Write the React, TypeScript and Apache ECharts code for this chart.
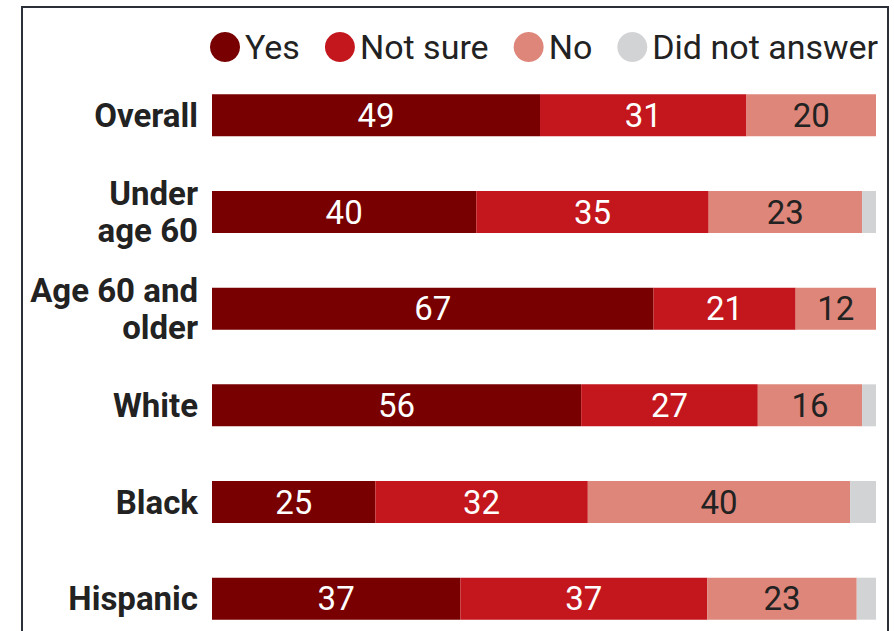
import React, { useEffect, useRef } from "react";
import * as echarts from "echarts";

const categories = ["Overall", "Under\nage 60", "Age 60 and\nolder", "White", "Black", "Hispanic"];
const seriesNames = ["Yes", "Not sure", "No", "Did not answer"];
const yesValues = [49.4, 39.8, 66.5, 55.6, 24.6, 37.4];
const notSureValues = [31.1, 35.0, 21.4, 26.6, 32.0, 37.2];
const noValues = [19.5, 23.1, 12.1, 15.7, 39.5, 22.5];
const dnaValues = [0, 2.1, 0, 2.1, 3.9, 2.9];
const colors = ["#780000", "#c3161d", "#df867a", "#d2d3d5"];
const labelColors = ["#ffffff", "#ffffff", "#222222", "#222222"];

const FONT = "Roboto, 'Noto Sans', sans-serif";

export default function App() {
  const ref = useRef<HTMLDivElement>(null);
  useEffect(() => {
    document.body.style.margin = "0";
    if (!ref.current) return;
    const chart = echarts.init(ref.current, null, { renderer: "svg" });
    const all = [yesValues, notSureValues, noValues, dnaValues];
    chart.setOption({
      animation: false,
      backgroundColor: "#ffffff",
      legend: {
        left: 210,
        top: 30,
        width: 684,
        icon: "circle",
        itemWidth: 30,
        itemHeight: 30,
        itemGap: 25,
        padding: 0,
        textStyle: { fontFamily: FONT, fontSize: 34, lineHeight: 30, color: "#222222" },
        selectedMode: false,
        data: seriesNames,
      },
      graphic: [
        {
          type: "rect",
          shape: { x: 22, y: 7, width: 866, height: 700 },
          style: { fill: "none", stroke: "#2b3038", lineWidth: 2 },
          silent: true,
          z: 100,
        },
      ],
      grid: { left: 212, top: 67, width: 664, height: 580, outerBoundsMode: "none", containLabel: false },
      xAxis: {
        type: "value",
        min: 0,
        max: 100,
        show: false,
      },
      yAxis: {
        type: "category",
        inverse: true,
        data: categories,
        axisLine: { show: false },
        axisTick: { show: false },
        axisLabel: {
          margin: 14,
          fontFamily: FONT,
          fontSize: 33,
          fontWeight: "bold",
          color: "#222222",
          lineHeight: 37,
          align: "right",
        },
      },
      series: seriesNames.map((name, i) => ({
        name,
        type: "bar",
        stack: "total",
        barWidth: 42,
        data: all[i],
        itemStyle: { color: colors[i] },
        label: {
          show: i < 3,
          position: "inside",
          fontFamily: FONT,
          fontSize: 33,
          color: labelColors[i],
          formatter: (p: any) => String(Math.round(p.value)),
        },
      })),
    });
    return () => chart.dispose();
  }, []);
  return <div ref={ref} style={{ width: 894, height: 631 }} />;
}
